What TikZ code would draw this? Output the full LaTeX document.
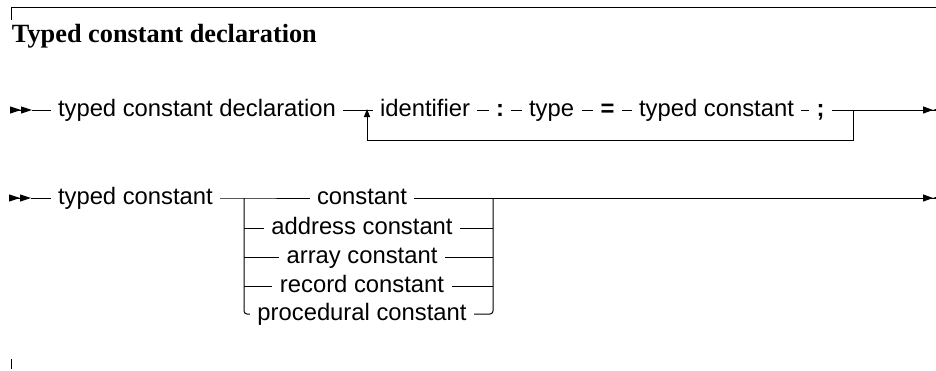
\documentclass[tikz,border=0pt]{standalone}
\usepackage{fontspec}
\setmainfont{Liberation Serif}
\newfontfamily\railfont{Liberation Sans}
\usetikzlibrary{arrows.meta}

\begin{document}
\begin{tikzpicture}[x=1pt,y=-1pt,line width=1pt,
    item/.style={inner xsep=7pt,inner ysep=2pt,text height=18pt,text depth=5.6pt,font={\railfont\fontsize{23.8}{28}\selectfont}},
    sym/.style={item,font={\railfont\bfseries\fontsize{23.8}{28}\selectfont}},
    entry/.style={-{Triangle[length=11pt,width=7pt]Triangle[length=11pt,width=7pt]}},
    exit/.style={-{Triangle[length=10pt,width=7pt]Triangle[reversed,length=10pt,width=7pt]}}]
\useasboundingbox (0,0) rectangle (936,370);

% frame and title
\draw[line width=0.8pt] (11,20) -- (11,7) -- (936,7);
\draw[line width=0.8pt] (11,359) -- (11,369);
\node[anchor=base west,inner sep=0pt,font={\bfseries\fontsize{26.3}{30}\selectfont}] (title) at (11.5,42) {Typed constant declaration};

% first rule
\coordinate (s1) at (10,110);
\coordinate (s1e) at (32,110);
\node[item,anchor=west] (decl) at (50.5,110) {typed constant declaration};
\node[item] (ident) at (425,110) {identifier};
\node[sym] (colon) at (500,110) {:};
\node[item] (type) at (551.5,110) {type};
\node[sym] (eqsign) at (607.5,110) {=};
\node[item] (tconst) at (716.5,110) {typed constant};
\node[sym] (semi) at (820.5,110) {;};
\coordinate (j1) at (367,110);
\coordinate (j2) at (853,110);
\coordinate (b1) at (367,140);
\coordinate (b2) at (853,140);
\coordinate (e1) at (943,110);
\draw[entry] (s1) -- (s1e);
\draw (s1e) -- (decl.west);
\draw (decl.east) -- (ident.west);
\draw (ident.east) -- (colon.west);
\draw (colon.east) -- (type.west);
\draw (type.east) -- (eqsign.west);
\draw (eqsign.east) -- (tconst.west);
\draw (tconst.east) -- (semi.west);
\draw (semi.east) -- (j2);
\draw[exit] (j2) -- (e1);
\draw[-{Triangle[length=8pt,width=6pt]}] (j2) -- (b2) -- (b1) -- ([yshift=1pt]j1);

% second rule
\coordinate (s2) at (10,198);
\coordinate (s2e) at (31,198);
\node[item,anchor=west] (tcname) at (50.5,198) {typed constant};
\coordinate (jL) at (244,198);
\coordinate (jR) at (493,198);
\node[item] (cons) at (362,198) {constant};
\node[item] (addr) at (362,228) {address constant};
\node[item] (arr) at (362,257) {array constant};
\node[item] (rec) at (362,286) {record constant};
\node[item] (proc) at (362,314) {procedural constant};
\coordinate (e2) at (943,198);
\draw[entry] (s2) -- (s2e);
\draw (s2e) -- (tcname.west);
\draw (tcname.east) -- (jL) -- (cons.west);
\draw (cons.east) -- (jR);
\draw[exit] (jR) -- (e2);
\draw[rounded corners=3pt] (jL) |- (proc.west);
\draw[rounded corners=3pt] (proc.east) -| (jR);
\foreach \n in {addr,arr,rec} {
  \draw (jL |- \n.west) -- (\n.west);
  \draw (\n.east) -- (jR |- \n.east);
}
\end{tikzpicture}
\end{document}
